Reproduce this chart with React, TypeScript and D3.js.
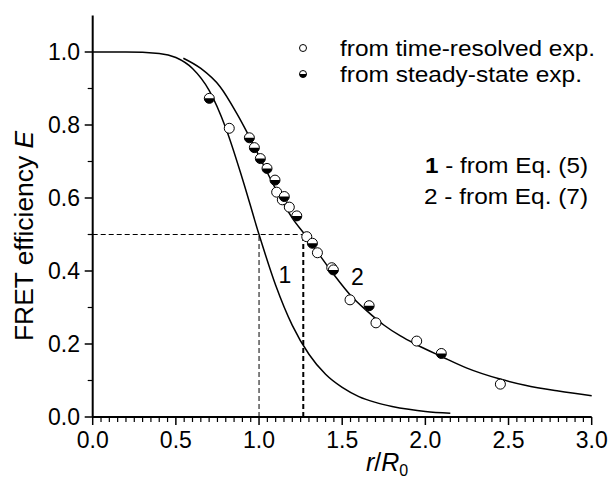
import * as d3 from "d3";

// axis ticks
const xTicks = [0, 0.5, 1.0, 1.5, 2.0, 2.5, 3.0];
const yTicks = [0, 0.2, 0.4, 0.6, 0.8, 1.0];

const timeResolvedR = [0.821, 1.106, 1.14, 1.182, 1.287, 1.351, 1.437, 1.547, 1.703, 1.948, 2.451];
const timeResolvedE = [0.791, 0.616, 0.595, 0.575, 0.494, 0.45, 0.409, 0.321, 0.258, 0.208, 0.09];
const steadyStateR = [0.701, 0.942, 0.972, 1.008, 1.048, 1.096, 1.152, 1.227, 1.321, 1.447, 1.662, 2.096];
const steadyStateE = [0.873, 0.765, 0.738, 0.708, 0.681, 0.649, 0.604, 0.551, 0.476, 0.403, 0.305, 0.174];

// curve 1 (Eq. 5)
const eq5R = [0, 0.2, 0.4, 0.5, 0.6, 0.7, 0.8, 0.9, 1.0, 1.1, 1.2, 1.3, 1.4, 1.5, 1.6, 1.7, 1.8, 1.9, 2.0, 2.15];
const eq5E = [1.0, 1.0, 0.996, 0.985, 0.955, 0.895, 0.792, 0.653, 0.5, 0.361, 0.251, 0.172, 0.117, 0.081, 0.056, 0.04, 0.029, 0.021, 0.015, 0.01];
// curve 2 (Eq. 7)
const eq7R = [0.545, 0.65, 0.766, 0.866, 0.936, 1.0, 1.1, 1.2, 1.277, 1.351, 1.45, 1.547, 1.65, 1.75, 1.85, 1.948, 2.1, 2.25, 2.449, 2.6, 2.8, 3.0];
const eq7E = [0.983, 0.955, 0.905, 0.832, 0.773, 0.715, 0.625, 0.545, 0.499, 0.452, 0.39, 0.335, 0.29, 0.252, 0.222, 0.198, 0.165, 0.134, 0.104, 0.087, 0.071, 0.058];

const halfPoint = 1.266; // r/R0 at E = 0.5 for curve 2

const W = 609;
const H = 481;
const font = "'Liberation Sans', Arial, sans-serif";

export default function App() {
  const x = d3.scaleLinear().domain([0, 3]).range([92.7, 591.7]);
  const y = d3.scaleLinear().domain([0, 1.1]).range([417, 15.5]);

  const line = d3
    .line<[number, number]>()
    .curve(d3.curveMonotoneX)
    .x((d) => x(d[0]))
    .y((d) => y(d[1]));

  const curve1 = eq5R.map((r, i) => [r, eq5E[i]] as [number, number]);
  const curve2 = eq7R.map((r, i) => [r, eq7E[i]] as [number, number]);

  const minorX = d3.range(0, 3.0001, 0.05).filter((v) => Math.abs(v * 2 - Math.round(v * 2)) > 1e-6);
  const minorY = [0.1, 0.3, 0.5, 0.7, 0.9];

  const halfArc = (r: number) =>
    d3.arc()({
      innerRadius: 0,
      outerRadius: r,
      startAngle: Math.PI / 2,
      endAngle: (3 * Math.PI) / 2,
    }) as string;

  return (
    <svg
      width={W}
      height={H}
      style={{ position: "absolute", left: 0, top: 0, background: "#fff" }}
      fontFamily={font}
    >
      {/* guide lines */}
      <line x1={x(0)} x2={x(halfPoint)} y1={y(0.5)} y2={y(0.5)} stroke="#000" strokeWidth={1} strokeDasharray="5,3" />
      <line x1={x(1)} x2={x(1)} y1={y(0)} y2={y(0.5)} stroke="#000" strokeWidth={1} strokeDasharray="5,3" />
      <line x1={x(halfPoint)} x2={x(halfPoint)} y1={y(0)} y2={y(0.5)} stroke="#000" strokeWidth={2} strokeDasharray="5,3" />

      {/* curves */}
      <path d={line(curve1) ?? ""} fill="none" stroke="#000" strokeWidth={1.5} />
      <path d={line(curve2) ?? ""} fill="none" stroke="#000" strokeWidth={1.5} />

      {/* axes */}
      <line x1={x(0)} x2={x(3)} y1={y(0)} y2={y(0)} stroke="#000" strokeWidth={2} />
      <line x1={x(0)} x2={x(0)} y1={y(0)} y2={y(1.1)} stroke="#000" strokeWidth={2} />
      {xTicks.map((t) => (
        <g key={"xt" + t}>
          <line x1={x(t)} x2={x(t)} y1={y(0)} y2={y(0) + 8} stroke="#000" strokeWidth={1.5} />
          <text x={x(t)} y={448} textAnchor="middle" fontSize={23}>
            {t.toFixed(1)}
          </text>
        </g>
      ))}
      {minorX.map((t) => (
        <line key={"xm" + t} x1={x(t)} x2={x(t)} y1={y(0)} y2={y(0) + 5} stroke="#000" strokeWidth={1.2} />
      ))}
      {yTicks.map((t) => (
        <g key={"yt" + t}>
          <line x1={x(0) - 8} x2={x(0)} y1={y(t)} y2={y(t)} stroke="#000" strokeWidth={1.5} />
          <text x={80} y={y(t)} dy="0.36em" textAnchor="end" fontSize={23}>
            {t.toFixed(1)}
          </text>
        </g>
      ))}
      {minorY.map((t) => (
        <line key={"ym" + t} x1={x(0) - 5} x2={x(0)} y1={y(t)} y2={y(t)} stroke="#000" strokeWidth={1.2} />
      ))}

      {/* axis titles */}
      <text
        transform="translate(33,236) rotate(-90)"
        textAnchor="middle"
        fontSize={25}
        textLength={210}
        lengthAdjust="spacingAndGlyphs"
      >
        FRET efficiency <tspan fontStyle="italic">E</tspan>
      </text>
      <text x={387} y={471} textAnchor="middle" fontSize={25}>
        <tspan fontStyle="italic">r</tspan>/<tspan fontStyle="italic">R</tspan>
        <tspan fontSize={16} dy={5}>0</tspan>
      </text>

      {/* data points */}
      {timeResolvedR.map((r, i) => (
        <circle key={"tr" + i} cx={x(r)} cy={y(timeResolvedE[i])} r={5} fill="#fff" stroke="#000" strokeWidth={1} />
      ))}
      {steadyStateR.map((r, i) => (
        <g key={"ss" + i} transform={`translate(${x(r)},${y(steadyStateE[i])})`}>
          <circle r={5} fill="#fff" stroke="#000" strokeWidth={1} />
          <path d={halfArc(5)} fill="#000" />
        </g>
      ))}

      {/* curve labels */}
      <text x={x(1.156)} y={y(0.389)} dy="0.36em" textAnchor="middle" fontSize={23}>1</text>
      <text x={x(1.591)} y={y(0.384)} dy="0.36em" textAnchor="middle" fontSize={23}>2</text>

      {/* legend */}
      <circle cx={303} cy={48} r={3.5} fill="#fff" stroke="#000" strokeWidth={1} />
      <text x={340} y={48} dy="0.36em" fontSize={22} textLength={255} lengthAdjust="spacingAndGlyphs">
        from time-resolved exp.
      </text>
      <g transform="translate(303,74)">
        <circle r={3.5} fill="#fff" stroke="#000" strokeWidth={1} />
        <path d={halfArc(3.5)} fill="#000" />
      </g>
      <text x={340} y={74} dy="0.36em" fontSize={22} textLength={242} lengthAdjust="spacingAndGlyphs">
        from steady-state exp.
      </text>

      <text x={425} y={165} dy="0.36em" fontSize={22} textLength={163} lengthAdjust="spacingAndGlyphs">
        <tspan fontWeight="bold">1</tspan> - from Eq. (5)
      </text>
      <text x={424} y={196} dy="0.36em" fontSize={22} textLength={164} lengthAdjust="spacingAndGlyphs">
        2 - from Eq. (7)
      </text>
    </svg>
  );
}
